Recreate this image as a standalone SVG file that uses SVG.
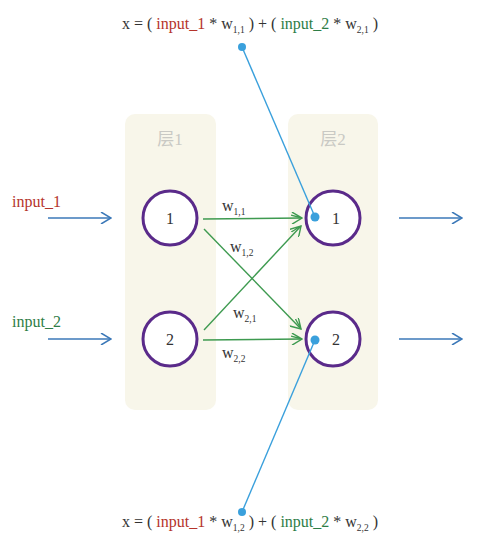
<svg xmlns="http://www.w3.org/2000/svg" width="492" height="543" viewBox="0 0 492 543">
<defs>
<style>
.t{font-family:"Liberation Serif","Times New Roman",serif;fill:#333}
.f{font-size:16px}
.r{fill:#b5342b}
.g{fill:#2e7d46}
.sub{font-size:9.5px}
.lay{font-family:"Liberation Serif","Noto Sans CJK SC",serif;font-size:17px;fill:#c9c9c4}
.box{fill:#f8f6ea}
.node{fill:#fff;stroke:#5a2a8a;stroke-width:3}
.in{stroke:#3b78b8;stroke-width:1.5;fill:none}
.w{stroke:#3e9a50;stroke-width:1.4;fill:none}
.b{stroke:#3aa0dc;stroke-width:1.4;fill:none}
.dot{fill:#3aa0dc}
</style>
<marker id="ab" markerWidth="12" markerHeight="12" refX="11" refY="6" orient="auto" markerUnits="userSpaceOnUse"><path d="M1,0 L11,6 L1,12" fill="none" stroke="#3b78b8" stroke-width="1.5"/></marker>
<marker id="ag" markerWidth="12" markerHeight="12" refX="11" refY="6" orient="auto" markerUnits="userSpaceOnUse"><path d="M1,0 L11,6 L1,12 M0,3 L11,6" fill="none" stroke="#3e9a50" stroke-width="1.4"/></marker>
</defs>
<g id="layer1"><rect class="box" x="125" y="114" width="91" height="296" rx="10"/><text class="lay" x="170" y="145" text-anchor="middle">层1</text></g>
<g id="layer2"><rect class="box" x="288" y="114" width="90" height="296" rx="10"/><text class="lay" x="333" y="145" text-anchor="middle">层2</text></g>
<g id="n11"><circle class="node" cx="170" cy="218" r="27"/><text class="t f" x="170" y="224" text-anchor="middle">1</text></g>
<g id="n12"><circle class="node" cx="170" cy="339" r="27"/><text class="t f" x="170" y="345" text-anchor="middle">2</text></g>
<g id="n21"><circle class="node" cx="333" cy="218" r="27"/><text class="t f" x="336" y="224" text-anchor="middle">1</text></g>
<g id="n22"><circle class="node" cx="333" cy="339" r="27"/><text class="t f" x="336" y="345" text-anchor="middle">2</text></g>
<g id="connectors">
<line class="in" x1="48" y1="218" x2="111" y2="218" marker-end="url(#ab)"/>
<line class="in" x1="48" y1="339" x2="111" y2="339" marker-end="url(#ab)"/>
<line class="in" x1="399" y1="218" x2="462" y2="218" marker-end="url(#ab)"/>
<line class="in" x1="399" y1="339" x2="462" y2="339" marker-end="url(#ab)"/>
<line class="w" x1="203" y1="219" x2="302" y2="218" marker-end="url(#ag)"/>
<line class="w" x1="204" y1="229" x2="301" y2="329" marker-end="url(#ag)"/>
<line class="w" x1="204" y1="330" x2="301" y2="226" marker-end="url(#ag)"/>
<line class="w" x1="203" y1="340" x2="302" y2="339" marker-end="url(#ag)"/>
<line class="b" x1="242" y1="47" x2="315" y2="217"/>
<circle class="dot" cx="242" cy="47" r="4"/><circle class="dot" cx="315" cy="217" r="4.5"/>
<line class="b" x1="242" y1="512" x2="315" y2="340"/>
<circle class="dot" cx="242" cy="512" r="4"/><circle class="dot" cx="315" cy="340" r="4.5"/>
</g>
<g id="labels">
<text class="t r f" x="12" y="207">input_1</text>
<text class="t g f" x="12" y="327">input_2</text>
<text class="t f" x="222" y="211">w<tspan class="sub" dy="4">1,1</tspan></text>
<text class="t f" x="230" y="252">w<tspan class="sub" dy="4">1,2</tspan></text>
<text class="t f" x="233" y="318">w<tspan class="sub" dy="4">2,1</tspan></text>
<text class="t f" x="222" y="358">w<tspan class="sub" dy="4">2,2</tspan></text>
<text class="t f" x="122" y="29">x = ( <tspan class="r">input_1</tspan> * w<tspan class="sub" dy="4">1,1</tspan><tspan dy="-4"> ) + ( </tspan><tspan class="g">input_2</tspan> * w<tspan class="sub" dy="4">2,1</tspan><tspan dy="-4"> )</tspan></text>
<text class="t f" x="122" y="527">x = ( <tspan class="r">input_1</tspan> * w<tspan class="sub" dy="4">1,2</tspan><tspan dy="-4"> ) + ( </tspan><tspan class="g">input_2</tspan> * w<tspan class="sub" dy="4">2,2</tspan><tspan dy="-4"> )</tspan></text>
</g>
</svg>
